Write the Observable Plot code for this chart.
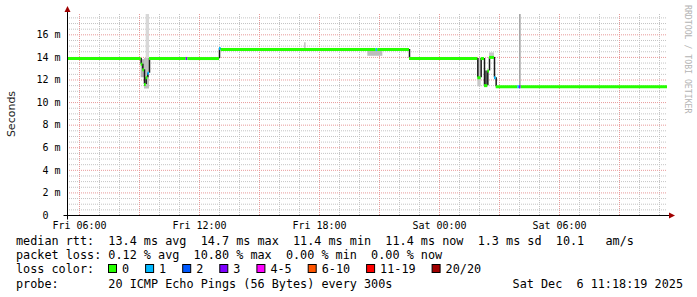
<!DOCTYPE html>
<html><head><meta charset="utf-8">
<script src="https://cdn.jsdelivr.net/npm/d3@7"></script>
<script src="https://cdn.jsdelivr.net/npm/@observablehq/plot@0.6"></script>
<style>
html,body{margin:0;padding:0;background:#fff;}
#wrap{position:relative;width:697px;height:297px;overflow:hidden;background:#fff}
#wrap svg text{white-space:pre}
#legend{position:absolute;left:0;top:0}
</style></head><body><div id="wrap"></div>
<script>
// ---------------- data ----------------
const startTime = "2025-12-05 05:24";
const endTime   = "2025-12-06 11:24";

// median rtt (ms) as steps: each value holds from its time to the next time
const medianTimes = [
  "2025-12-05 05:24", "2025-12-05 09:05", "2025-12-05 09:10", "2025-12-05 09:15",
  "2025-12-05 09:20", "2025-12-05 09:25", "2025-12-05 09:30", "2025-12-05 11:20",
  "2025-12-05 11:25", "2025-12-05 13:00", "2025-12-05 13:05", "2025-12-05 20:50",
  "2025-12-05 20:55", "2025-12-05 22:30", "2025-12-06 01:55", "2025-12-06 02:05",
  "2025-12-06 02:15", "2025-12-06 02:25", "2025-12-06 02:30", "2025-12-06 02:45",
  "2025-12-06 02:50", "2025-12-06 03:55", "2025-12-06 04:00", "2025-12-06 04:05"
];
const medianValues = [
  13.9, 13.4, 12.9, 11.6,
  12.2, 12.6, 13.9, 13.9,
  13.9, 14.8, 14.7, 14.7,
  14.7, 13.9, 12.2, 13.9,
  11.5, 12.8, 14.0, 12.2,
  11.4, 11.4, 11.4, 11.4
];
// lost pings (of 20) for each step
const medianLoss = [
  0, 0, 0, 0,
  0, 1, 0, 3,
  0, 1, 0, 1,
  0, 0, 0, 0,
  0, 0, 0, 1,
  0, 1, 3, 0
];

// smoke (spread of the 20 pings)
const smokeStart = ["2025-12-05 09:05","2025-12-05 09:15","2025-12-05 09:20","2025-12-05 17:15","2025-12-05 20:25",
                    "2025-12-06 01:55","2025-12-06 02:15","2025-12-06 02:30","2025-12-06 04:00"];
const smokeEnd   = ["2025-12-05 09:15","2025-12-05 09:30","2025-12-05 09:30","2025-12-05 17:20","2025-12-05 21:10",
                    "2025-12-06 02:05","2025-12-06 02:25","2025-12-06 02:45","2025-12-06 04:05"];
const smokeLow   = [12.2, 11.2, 13.9, 14.7, 14.1, 11.4, 11.5, 14.0, 11.4];
const smokeHigh  = [13.8, 13.9, 17.8, 15.3, 14.7, 13.9, 12.8, 14.4, 17.8];
const smokeShade = ["#b4b4b4","#c0c0c0","#d8d8d8","#c8c8c8","#bdbdbd","#c8c8c8","#5a5a5a","#c8c8c8","#a8a8a8"];

const lossLabels = ["0","1","2","3","4-5","6-10","11-19","20/20"];
const lossColors = ["#26ff00","#00b8ff","#0059ff","#7e00ff","#ff00ff","#ff5500","#ff0000","#a00000"];

const xTickTimes  = ["2025-12-05 06:00","2025-12-05 12:00","2025-12-05 18:00","2025-12-06 00:00","2025-12-06 06:00"];
const xTickLabels = ["Fri 06:00","Fri 12:00","Fri 18:00","Sat 00:00","Sat 06:00"];
const yTickValues = [0, 2, 4, 6, 8, 10, 12, 14, 16];
const yTickLabels = ["0  ","2 m","4 m","6 m","8 m","10 m","12 m","14 m","16 m"];

const statsLine  = "median rtt:  13.4 ms avg  14.7 ms max  11.4 ms min  11.4 ms now  1.3 ms sd  10.1   am/s";
const lossLine   = "packet loss: 0.12 % avg  10.80 % max  0.00 % min  0.00 % now";
const colorTitle = "loss color:";
const probeLine  = "probe:       20 ICMP Echo Pings (56 Bytes) every 300s";
const dateStamp  = "Sat Dec  6 11:18:19 2025";
const yLabel = "Seconds";
const watermark = "RRDTOOL / TOBI OETIKER";

// ---------------- build ----------------
function parseT(s) {
  const [d, t] = s.split(" ");
  const [Y, M, D] = d.split("-").map(Number);
  const [h, m] = t.split(":").map(Number);
  return new Date(Y, M - 1, D, h, m, 0);
}
const t0 = parseT(startTime), t1 = parseT(endTime);
function lossIndex(n) {
  if (n <= 3) return n;
  if (n <= 5) return 4;
  if (n <= 10) return 5;
  if (n <= 19) return 6;
  return 7;
}
const steps = medianTimes.map((s, i) => ({
  x1: parseT(s),
  x2: i + 1 < medianTimes.length ? parseT(medianTimes[i + 1]) : t1,
  y: medianValues[i],
  color: lossColors[lossIndex(medianLoss[i])]
}));
const jumps = [];
for (let i = 1; i < steps.length; i++) {
  if (medianValues[i] !== medianValues[i - 1]) jumps.push({x: steps[i].x1, y1: medianValues[i - 1], y2: medianValues[i]});
}
const smoke = smokeStart.map((s, i) => ({x1: parseT(s), x2: parseT(smokeEnd[i]), y1: smokeLow[i], y2: smokeHigh[i], fill: smokeShade[i]}));

const hours = d3.timeHour.range(d3.timeHour.ceil(t0), t1);
const majorX = hours.filter(d => d.getHours() % 3 === 0);
const minorX = hours.filter(d => d.getHours() % 3 !== 0);
const halfSteps = d3.range(1, 36).map(k => k / 2);
const majorY = halfSteps.filter(v => v % 2 === 0);
const minorY = halfSteps.filter(v => v % 2 !== 0);
const xTicks = xTickTimes.map(parseT);

const frameDecor = (index, scales, values, dims) => {
  const {width, height, marginLeft: ml, marginRight: mr, marginTop: mt, marginBottom: mb} = dims;
  const x0 = ml + 0.5, x1 = width - mr, yb = height - mb + 0.5, yt = mt;
  const g = d3.create("svg:g");
  g.append("line").attr("x1", x0).attr("x2", x0).attr("y1", yb + 4).attr("y2", yt - 3).attr("stroke", "#000");
  g.append("line").attr("x1", x0 - 4).attr("x2", x1 + 3).attr("y1", yb).attr("y2", yb).attr("stroke", "#000");
  g.append("path").attr("d", `M${x0 - 3},${yt - 2}L${x0 + 3},${yt - 2}L${x0},${yt - 8}Z`).attr("fill", "#a00000");
  g.append("path").attr("d", `M${x1 + 2},${yb - 3}L${x1 + 2},${yb + 3}L${x1 + 8},${yb}Z`).attr("fill", "#a00000");
  return g.node();
};

const chart = Plot.plot({
  width: 697, height: 235,
  marginLeft: 67, marginRight: 30, marginTop: 14, marginBottom: 20,
  x: {type: "time", domain: [t0, t1]},
  y: {domain: [0, 17.8]},
  style: {fontFamily: "'DejaVu Sans Mono', monospace", fontSize: "10px", color: "#000", background: "#fff", overflow: "visible"},
  marks: [
    Plot.ruleY(minorY, {stroke: "#c4c4c4", strokeDasharray: "1,1"}),
    Plot.ruleX(minorX, {stroke: "#c4c4c4", strokeDasharray: "1,1"}),
    Plot.ruleY(majorY, {stroke: "#e89a9a", strokeDasharray: "1,1"}),
    Plot.ruleX(majorX, {stroke: "#e89a9a", strokeDasharray: "1,1"}),
    Plot.rect(smoke, {x1: "x1", x2: "x2", y1: "y1", y2: "y2", fill: d => d.fill, clip: true}),
    Plot.ruleX(jumps, {x: "x", y1: "y1", y2: "y2", stroke: "#1a1a1a", strokeWidth: 1.5}),
    Plot.ruleY(steps, {x1: "x1", x2: "x2", y: "y", stroke: d => d.color, strokeWidth: 3}),
    Plot.axisY({ticks: yTickValues, tickFormat: d => yTickLabels[yTickValues.indexOf(d)], tickSize: 0, tickPadding: 7, label: null}),
    Plot.axisX({ticks: xTicks, tickFormat: d => xTickLabels[xTicks.findIndex(t => +t === +d)], tickSize: 0, tickPadding: 6, label: null}),
    frameDecor
  ]
});
const wrap = document.getElementById("wrap");
wrap.appendChild(chart);

// legend / annotations overlay
const ns = "http://www.w3.org/2000/svg";
const lg = d3.create("svg").attr("id", "legend").attr("width", 697).attr("height", 297)
  .style("font-family", "'DejaVu Sans Mono', monospace").style("font-size", "11.8px");
const lx = 16;
lg.append("text").attr("x", lx).attr("y", 245).attr("fill", "#000").text(statsLine);
lg.append("text").attr("x", lx).attr("y", 259).attr("fill", "#000").text(lossLine);
lg.append("text").attr("x", lx).attr("y", 273).attr("fill", "#000").text(colorTitle);
lg.append("text").attr("x", lx).attr("y", 288).attr("fill", "#000").text(probeLine);
lg.append("text").attr("x", 683).attr("y", 288).attr("text-anchor", "end").attr("fill", "#000").text(dateStamp);
let bx = 108;
lossLabels.forEach((lab, i) => {
  lg.append("rect").attr("x", bx + 0.5).attr("y", 264.5).attr("width", 8).attr("height", 8)
    .attr("fill", lossColors[i]).attr("stroke", "#000");
  lg.append("text").attr("x", bx + 14).attr("y", 273).attr("fill", "#000").text(lab);
  bx += 30 + lab.length * 7.1;
});
lg.append("text").attr("transform", "translate(15,114) rotate(-90)").attr("text-anchor", "middle")
  .style("font-family", "'DejaVu Sans', sans-serif").style("font-size", "11px").attr("fill", "#222").text(yLabel);
lg.append("text").attr("transform", "translate(685,5) rotate(90)")
  .style("font-size", "8.2px").attr("fill", "#b4b4b4").text(watermark);
wrap.appendChild(lg.node());
</script>
</body></html>
